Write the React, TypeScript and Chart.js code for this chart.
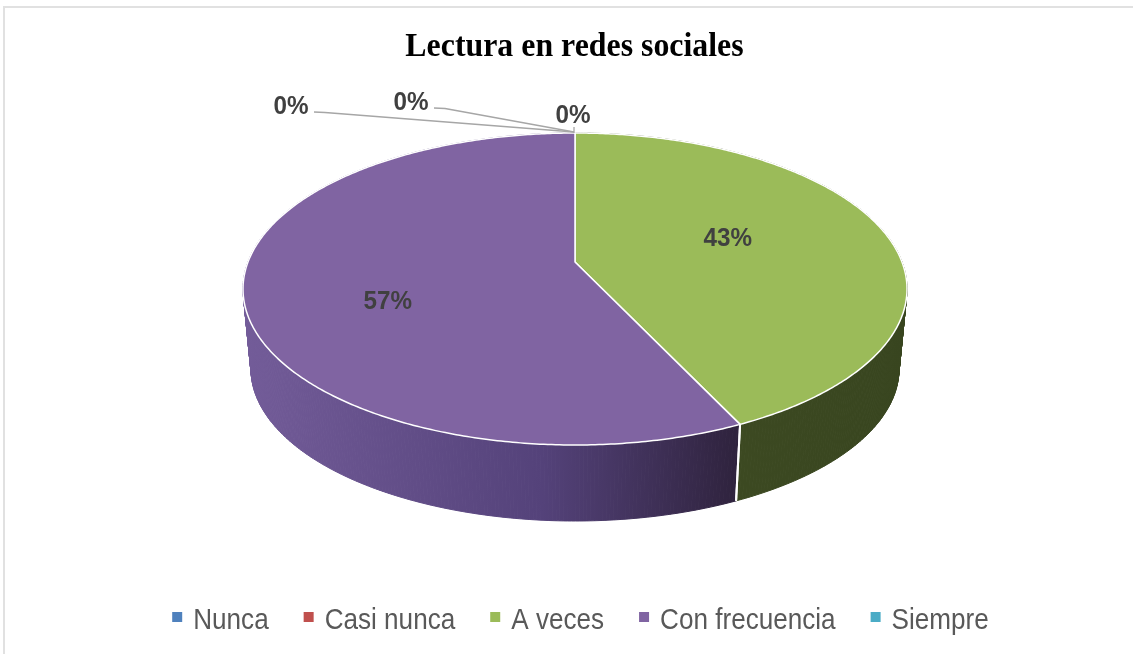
import React, { useEffect, useRef } from "react";
import { Chart, registerables } from "chart.js";

Chart.register(...registerables);

// ---------------- data ----------------
const TITLE = "Lectura en redes sociales";
const CATEGORIES = ["Nunca", "Casi nunca", "A veces", "Con frecuencia", "Siempre"];
const PERCENTS = [0, 0, 43, 57, 0];
const COLORS = ["#4f81bd", "#c0504d", "#9bbb59", "#8064a2", "#4bacc6"];

// ---------------- style / layout ----------------
// side-wall shading (gradient stops across the pie width)
const WALL_STOPS: [number, string][][] = [
  [[0, "#2f4d72"], [1, "#1d3048"]],
  [[0, "#7a302e"], [1, "#4a1d1c"]],
  [[0, "#414f25"], [0.7, "#3d4a22"], [1, "#38451f"]],
  [[0, "#735c99"], [0.45, "#54427a"], [0.75, "#2e223c"], [1, "#2a1f37"]],
  [[0, "#2e6d7e"], [1, "#1c444f"]],
];
// nudges for the non-zero percentage labels (dx, dy)
const LABEL_NUDGE: [number, number][] = [[0, 0], [0, 0], [-10, -8], [-18, 21], [0, 0]];
// placement of the 0% labels relative to the slice's rim point
const ZERO_LABEL_OFFSET: ([number, number] | null)[] = [[-284, -27.5], [-164, -31.5], null, null, [-2, -19]];

const GEO = {
  cx: 575, cy: 289, rx: 332, ry: 156,
  bcx: 575, bcy: 369, brx: 324, bry: 152,
  persp: -0.173,
};

function project(theta: number, f: number, bottom = false): [number, number] {
  const t = GEO.persp;
  const x = f * Math.sin(theta);
  const y = -f * Math.cos(theta);
  const d = 1 + t * y;
  const X = (x * Math.sqrt(1 - t * t)) / d;
  const Y = (y + t) / d;
  if (bottom) return [GEO.bcx + GEO.brx * X, GEO.bcy + GEO.bry * Y];
  return [GEO.cx + GEO.rx * X, GEO.cy + GEO.ry * Y];
}

function drawScaledText(
  ctx: CanvasRenderingContext2D, text: string, x: number, y: number,
  font: string, color: string, sx: number, align: "left" | "center"
) {
  ctx.save();
  ctx.font = font;
  ctx.fillStyle = color;
  ctx.textBaseline = "alphabetic";
  ctx.textAlign = align;
  ctx.translate(x, y);
  ctx.scale(sx, 1);
  ctx.fillText(text, 0, 0);
  ctx.restore();
}

const pie3d = {
  id: "pie3d",
  beforeDatasetsDraw(chart: any) {
    const ctx: CanvasRenderingContext2D = chart.ctx;
    const meta = chart.getDatasetMeta(0);
    const arcs = meta.data.map((el: any) => {
      const p = el.getProps(["startAngle", "endAngle"], true);
      return { s: p.startAngle + Math.PI / 2, e: p.endAngle + Math.PI / 2 };
    });
    const values: number[] = chart.data.datasets[0].data;
    const colors: string[] = chart.data.datasets[0].backgroundColor;

    ctx.save();
    // ---- side walls ----
    arcs.forEach((a: any, i: number) => {
      if (a.e - a.s < 1e-6) return;
      const g = ctx.createLinearGradient(GEO.cx - GEO.rx, 0, GEO.cx + GEO.rx, 0);
      WALL_STOPS[i].forEach(([o, c]) => g.addColorStop(o, c));
      const n = Math.max(2, Math.ceil((a.e - a.s) / 0.01));
      ctx.fillStyle = g;
      ctx.strokeStyle = g;
      ctx.lineWidth = 1;
      for (let k = 0; k < n; k++) {
        const t0 = a.s + ((a.e - a.s) * k) / n;
        const t1 = a.s + ((a.e - a.s) * (k + 1)) / n;
        const p0 = project(t0, 1), p1 = project(t1, 1);
        const q0 = project(t0, 1, true), q1 = project(t1, 1, true);
        ctx.beginPath();
        ctx.moveTo(p0[0], p0[1]);
        ctx.lineTo(p1[0], p1[1]);
        ctx.lineTo(q1[0], q1[1]);
        ctx.lineTo(q0[0], q0[1]);
        ctx.closePath();
        ctx.fill();
        ctx.stroke();
      }
    });
    // white edges on the front wall at slice boundaries
    arcs.forEach((a: any) => {
      [a.s, a.e].forEach((th: number) => {
        const p = project(th, 1);
        if (p[1] <= GEO.cy + 5) return;
        const q = project(th, 1, true);
        ctx.beginPath();
        ctx.moveTo(p[0], p[1]);
        ctx.lineTo(q[0], q[1]);
        ctx.strokeStyle = "#ffffff";
        ctx.lineWidth = 2;
        ctx.stroke();
      });
    });

    // ---- top faces ----
    const center = project(0, 0);
    arcs.forEach((a: any, i: number) => {
      if (a.e - a.s < 1e-6) return;
      const n = Math.max(2, Math.ceil((a.e - a.s) / 0.01));
      ctx.beginPath();
      ctx.moveTo(center[0], center[1]);
      for (let k = 0; k <= n; k++) {
        const th = a.s + ((a.e - a.s) * k) / n;
        const p = project(th, 1);
        ctx.lineTo(p[0], p[1]);
      }
      ctx.closePath();
      ctx.fillStyle = colors[i];
      ctx.fill();
      ctx.strokeStyle = "#ffffff";
      ctx.lineWidth = 1.5;
      ctx.lineJoin = "round";
      ctx.stroke();
    });

    // ---- data labels ----
    const labelFont = 'bold 25px "Liberation Sans", Arial, sans-serif';
    arcs.forEach((a: any, i: number) => {
      const txt = Math.round(values[i]) + "%";
      if (values[i] > 0) {
        const mid = (a.s + a.e) / 2;
        const p = project(mid, 0.52);
        const x = p[0] + LABEL_NUDGE[i][0];
        const y = p[1] + LABEL_NUDGE[i][1];
        drawScaledText(ctx, txt, x, y + 8.8, labelFont, "#404040", 0.97, "center");
      } else {
        const off = ZERO_LABEL_OFFSET[i];
        if (!off) return;
        const anchor = project(a.s, 1);
        const lx = anchor[0] + off[0];
        const ly = anchor[1] + off[1];
        ctx.beginPath();
        ctx.strokeStyle = "#a6a6a6";
        ctx.lineWidth = 1.3;
        if (Math.abs(off[0]) > 40) {
          ctx.moveTo(lx + 23, ly + 6.5);
          ctx.lineTo(lx + 34, ly + 7);
          ctx.lineTo(anchor[0] - 1, anchor[1] - 1);
        } else {
          ctx.moveTo(anchor[0] - 1, anchor[1] - 6);
          ctx.lineTo(anchor[0] - 1, anchor[1]);
        }
        ctx.stroke();
        drawScaledText(ctx, txt, lx, ly + 8.8, labelFont, "#404040", 0.97, "center");
      }
    });

    // ---- title ----
    drawScaledText(ctx, TITLE, 574.5, 56, 'bold 34px "Liberation Serif", "Times New Roman", serif', "#000000", 0.937, "center");

    // ---- legend ----
    const legendFont = '30px "Liberation Sans", Arial, sans-serif';
    const sx = 0.87;
    ctx.font = legendFont;
    const box = 10, gapBox = 11, gapItem = 35;
    const widths = chart.data.labels.map((l: string) => ctx.measureText(l).width * sx);
    const total = widths.reduce((s: number, w: number) => s + box + gapBox + w, 0) + gapItem * (widths.length - 1);
    let x = 580.5 - total / 2;
    chart.data.labels.forEach((l: string, i: number) => {
      ctx.fillStyle = colors[i];
      ctx.fillRect(x, 612, box, box);
      drawScaledText(ctx, l, x + box + gapBox, 629, legendFont, "#595959", sx, "left");
      x += box + gapBox + widths[i] + gapItem;
    });

    ctx.restore();
    return false;
  },
};

export default function App() {
  const ref = useRef<HTMLCanvasElement>(null);
  useEffect(() => {
    if (!ref.current) return;
    const chart = new Chart(ref.current, {
      type: "pie",
      data: {
        labels: CATEGORIES,
        datasets: [{ data: PERCENTS, backgroundColor: COLORS, borderWidth: 0 }],
      },
      options: {
        responsive: false,
        animation: false,
        events: [],
        plugins: {
          legend: { display: false },
          title: { display: false },
          tooltip: { enabled: false },
        },
      },
      plugins: [pie3d as any],
    });
    return () => chart.destroy();
  }, []);
  return (
    <div style={{ position: "fixed", left: 0, top: 0, width: 1133, height: 654, overflow: "hidden", background: "#ffffff" }}>
      <canvas ref={ref} width={1133} height={654} style={{ position: "absolute", left: 0, top: 0 }} />
      <div
        style={{
          position: "absolute", left: 3, top: 6, width: 2000, height: 2000,
          borderTop: "2px solid #e1e1e1", borderLeft: "2px solid #e1e1e1", pointerEvents: "none",
        }}
      />
    </div>
  );
}
